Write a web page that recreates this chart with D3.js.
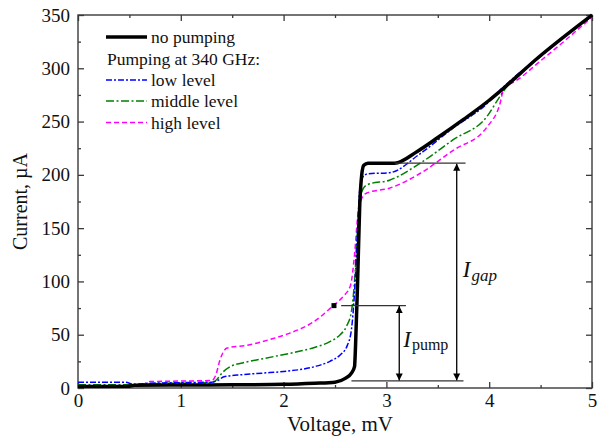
<!DOCTYPE html>
<html><head><meta charset="utf-8">
<script src="https://cdn.jsdelivr.net/npm/d3@7"></script>
<style>
body{margin:0;background:#fff;}
svg text{font-family:"Liberation Serif",Tinos,"Times New Roman","DejaVu Serif",serif !important;}
</style></head>
<body><svg id="c" width="612" height="444"></svg>
<script>
// ---- data (Voltage in mV, Current in µA) ----
const noPumpV = [0,0.48,0.55,1.0,1.5,2.0,2.3,2.5,2.6,2.66,2.69,2.7,2.72,2.74,2.76,2.78,2.82,3.08,3.3,3.5,3.75,4.0,4.1,4.5,5.0];
const noPumpI = [1.5,1.5,2.5,2.8,3.0,3.5,4.5,5.5,9,14,20,40,100,170,200,209,211,211,222,235,252,270,278,312,350];

const lowV = [0,0.45,0.55,0.7,1.0,1.3,1.36,1.42,1.6,1.8,2.0,2.3,2.45,2.55,2.62,2.66,2.69,2.72,2.74,2.77,2.82,3.03,3.33,3.65,3.98,4.08,4.5,5.0];
const lowI = [5.5,5.5,3.5,4.5,5,5.5,7,10.5,12.5,14,15.5,20,25,31,40,55,90,150,185,198,201,202,220,244,267,277,312,350];

const midV = [0,0.5,0.7,1.0,1.3,1.35,1.4,1.48,1.6,1.8,2.13,2.3,2.45,2.55,2.61,2.66,2.69,2.72,2.75,2.78,2.82,3.03,3.33,3.65,3.98,4.1,4.15,4.5,5.0];
const midI = [3,3,4,4.5,5,8,14,20,23.5,27.5,34,38,43.5,50,57.5,72,100,150,180,188,191,195,211,233,255,273,280,311,349];

const highV = [0,0.6,0.7,1.0,1.3,1.34,1.38,1.45,1.64,1.9,2.06,2.29,2.48,2.58,2.65,2.69,2.72,2.76,2.81,3.03,3.33,3.65,3.98,4.1,4.15,4.22,4.5,5.0];
const highI = [2,2,6,6.5,7,12,26,37.5,40,46.5,51.5,62,77,86,96,125,160,178,183,187.5,201.5,223,245,265,283,286,307,348];

const xTicks = [0,1,2,3,4,5];
const yTicks = [0,50,100,150,200,250,300,350];
const xMinor = [0.5,1.5,2.5,3.5,4.5];
const yMinor = [25,75,125,175,225,275,325];

const legendLabels = ["no pumping","Pumping at 340 GHz:","low level","middle level","high level"];

// annotation levels (data units)
const gapLevel = 211, pumpLevel = 77.3, baseLevel = 6.6;
const gapLineV = [3.08,3.77], baseLineV = [2.66,3.75], pumpLineV = [2.56,3.19];
const pumpDotV = 2.49;
const pumpArrowV = 3.125, gapArrowV = 3.684;

// ---- drawing ----
const FONT = '"Liberation Serif",Tinos,"Times New Roman","DejaVu Serif",serif';
const svg = d3.select("#c");
const x = d3.scaleLinear().domain([0,5]).range([78,592]);
const y = d3.scaleLinear().domain([0,350]).range([388,15]);
const axisColor = "#3a3a3a";

const defs = svg.append("defs");
defs.append("marker").attr("id","ah").attr("viewBox","0 0 10 10")
  .attr("refX",10).attr("refY",5).attr("markerWidth",7).attr("markerHeight",9.5)
  .attr("markerUnits","userSpaceOnUse").attr("orient","auto-start-reverse")
  .append("path").attr("d","M0,0L10,5L0,10Z").attr("fill","#000");

// axes
function styleAxis(g){
  g.attr("font-family",FONT);
  g.select(".domain").remove();
  g.selectAll(".tick line").attr("stroke",axisColor).attr("stroke-width",1.3);
  g.selectAll("text").style("font-family",FONT).attr("font-size",19).attr("fill","#111");
}
svg.append("g").attr("transform",`translate(0,${y(0)})`)
  .call(d3.axisBottom(x).tickValues(xTicks).tickSize(-6).tickPadding(6).tickFormat(d3.format("d")))
  .call(styleAxis);
svg.append("g").attr("transform",`translate(0,${y(0)})`)
  .call(d3.axisBottom(x).tickValues(xMinor).tickSize(-3).tickFormat(""))
  .call(styleAxis);
svg.append("g").attr("transform",`translate(0,${y(350)})`)
  .call(d3.axisTop(x).tickValues(xTicks).tickSize(-6).tickFormat(""))
  .call(styleAxis);
svg.append("g").attr("transform",`translate(0,${y(350)})`)
  .call(d3.axisTop(x).tickValues(xMinor).tickSize(-3).tickFormat(""))
  .call(styleAxis);
svg.append("g").attr("transform",`translate(${x(0)},0)`)
  .call(d3.axisLeft(y).tickValues(yTicks).tickSize(-6).tickPadding(8).tickFormat(d3.format("d")))
  .call(styleAxis);
svg.append("g").attr("transform",`translate(${x(0)},0)`)
  .call(d3.axisLeft(y).tickValues(yMinor).tickSize(-3).tickFormat(""))
  .call(styleAxis);
svg.append("g").attr("transform",`translate(${x(5)},0)`)
  .call(d3.axisRight(y).tickValues(yTicks).tickSize(-6).tickFormat(""))
  .call(styleAxis);
svg.append("g").attr("transform",`translate(${x(5)},0)`)
  .call(d3.axisRight(y).tickValues(yMinor).tickSize(-3).tickFormat(""))
  .call(styleAxis);

// frame
svg.append("rect").attr("x",x(0)).attr("y",y(350)).attr("width",x(5)-x(0)).attr("height",y(0)-y(350))
  .attr("fill","none").attr("stroke",axisColor).attr("stroke-width",1.4);

// axis titles
svg.append("text").attr("x",(x(0)+x(5))/2+5).attr("y",430.5).attr("text-anchor","middle")
  .attr("font-size",21).attr("fill","#111").style("font-family",FONT).text("Voltage, mV");
svg.append("text").attr("transform",`translate(27,${(y(0)+y(350))/2})rotate(-90)`).attr("text-anchor","middle")
  .attr("font-size",20).attr("fill","#111").style("font-family",FONT).text("Current, µA");

// curves
const line = d3.line().x(d=>x(d[0])).y(d=>y(d[1])).curve(d3.curveMonotoneX);
const zip = (a,b)=>a.map((v,i)=>[v,b[i]]);
const series = [
  {v:highV,i:highI,color:"#ff00ff",w:1.5,dash:"5,3"},
  {v:midV,i:midI,color:"#008000",w:1.5,dash:"8,2.5,2,2.5"},
  {v:lowV,i:lowI,color:"#0000ff",w:1.5,dash:"6,2,2,2"},
  {v:noPumpV,i:noPumpI,color:"#000",w:3.5,dash:null}
];
defs.append("clipPath").attr("id","pc").append("rect")
  .attr("x",x(0)).attr("y",y(350)-2).attr("width",x(5)-x(0)+2).attr("height",y(0)-y(350)+2);
svg.append("g").attr("clip-path","url(#pc)").selectAll("path").data(series).join("path")
  .attr("d",s=>line(zip(s.v,s.i))).attr("fill","none")
  .attr("stroke",s=>s.color).attr("stroke-width",s=>s.w)
  .attr("stroke-dasharray",s=>s.dash).attr("stroke-linejoin","round");

// annotations
const ann = svg.append("g").attr("stroke","#333").attr("stroke-width",1.3);
[[gapLineV,gapLevel],[baseLineV,baseLevel],[pumpLineV,pumpLevel]].forEach(([vv,lv])=>{
  ann.append("line").attr("x1",x(vv[0])).attr("x2",x(vv[1])).attr("y1",y(lv)).attr("y2",y(lv));
});
svg.append("rect").attr("x",x(pumpDotV)-2.5).attr("y",y(pumpLevel)-2.5).attr("width",5).attr("height",5).attr("fill","#000");
[[pumpArrowV,pumpLevel],[gapArrowV,gapLevel]].forEach(([av,top])=>{
  svg.append("line").attr("x1",x(av)).attr("x2",x(av)).attr("y1",y(top)+0.5).attr("y2",y(baseLevel)-0.5)
    .attr("stroke","#000").attr("stroke-width",1.3)
    .attr("marker-start","url(#ah)").attr("marker-end","url(#ah)");
});
const tp = svg.append("text").attr("x",x(pumpArrowV)+4).attr("y",347).attr("fill","#111").style("font-family",FONT);
tp.append("tspan").attr("font-style","italic").attr("font-size",23).text("I");
tp.append("tspan").attr("font-size",16).attr("dy",3).attr("dx",1).text("pump");
const tg = svg.append("text").attr("x",x(gapArrowV)+6).attr("y",277).attr("fill","#111").style("font-family",FONT);
tg.append("tspan").attr("font-style","italic").attr("font-size",23).text("I");
tg.append("tspan").attr("font-style","italic").attr("font-size",17).attr("dy",4).attr("dx",1).text("gap");

// legend
const lg = svg.append("g");
const legRows = [
  {label:legendLabels[0],s:series[3],y:43},
  {label:legendLabels[1],s:null,y:64.5},
  {label:legendLabels[2],s:series[2],y:86},
  {label:legendLabels[3],s:series[1],y:107},
  {label:legendLabels[4],s:series[0],y:128.5}
];
legRows.forEach(r=>{
  if(r.s){
    lg.append("line").attr("x1",106).attr("x2",147).attr("y1",r.y-6).attr("y2",r.y-6)
      .attr("stroke",r.s.color).attr("stroke-width",r.s.w).attr("stroke-dasharray",r.s.dash);
    lg.append("text").attr("x",151).attr("y",r.y).attr("font-size",17.5).attr("fill","#111").style("font-family",FONT).text(r.label);
  } else {
    lg.append("text").attr("x",107).attr("y",r.y).attr("font-size",17.5).attr("fill","#111").style("font-family",FONT).text(r.label);
  }
});
</script></body></html>
